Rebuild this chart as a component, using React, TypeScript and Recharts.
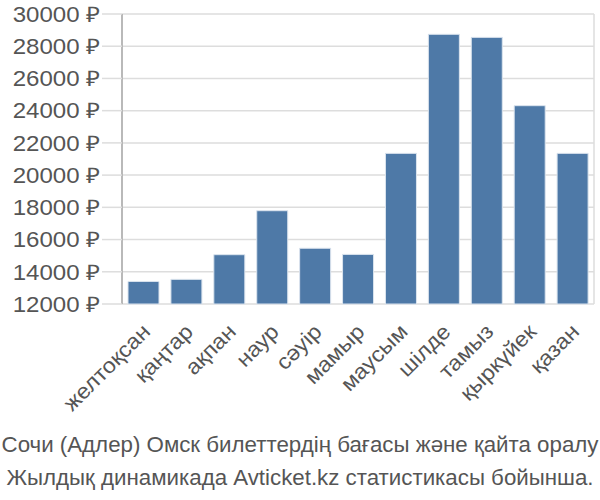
import { BarChart, Bar, XAxis, YAxis, CartesianGrid } from 'recharts';

const months = ['желтоқсан', 'қаңтар', 'ақпан', 'наур', 'сәуір', 'мамыр', 'маусым', 'шілде', 'тамыз', 'қыркүйек', 'қазан'];
const prices = [13400, 13530, 15060, 17790, 15460, 15080, 21350, 28740, 28550, 24310, 21350];
const yTicks = [12000, 14000, 16000, 18000, 20000, 22000, 24000, 26000, 28000, 30000];
const gridTicks = [0, 1, 2, 3, 4, 5, 6, 7, 8, 9, 10, 11];
const titleLines = [
  'Сочи (Адлер) Омск билеттердің бағасы және қайта оралу',
  'Жылдық динамикада Avticket.kz статистикасы бойынша.',
];

const font = '"Liberation Sans", Arial, sans-serif';

// y tick text is wider than the plain font, stretch it horizontally
function PriceTick(props: any) {
  const { x, y, payload } = props;
  return (
    <g transform={`translate(${x},${y})`}>
      <text
        transform="scale(1.12,1)"
        textAnchor="end"
        dy="0.36em"
        fill="#555555"
        fontSize={21.5}
        fontFamily={font}
      >
        {`${payload.value} ₽`}
      </text>
    </g>
  );
}

function MonthTick(props: any) {
  const { x, y, payload } = props;
  return (
    <g transform={`translate(${x + 8},${y + 29})`}>
      <text
        transform="rotate(-45) scale(1.08,1)"
        textAnchor="end"
        fill="#555555"
        fontSize={21.5}
        fontFamily={font}
      >
        {payload.value}
      </text>
    </g>
  );
}

export default function App() {
  // one row per month for the chart
  const chartData = months.map((m, i) => ({ month: m, price: prices[i], pos: i + 0.5 }));

  return (
    <div style={{ position: 'absolute', left: 0, top: 0, width: 600, height: 500, background: '#fff' }}>
      <BarChart
        width={600}
        height={428}
        data={chartData}
        margin={{ top: 14, right: 6, left: 0, bottom: 0 }}
        barCategoryGap="14%"
      >
        <CartesianGrid stroke="#dddddd" strokeWidth={1.5} xAxisId="grid" />
        <XAxis
          xAxisId="grid"
          type="number"
          dataKey="pos"
          domain={[0, 11]}
          ticks={gridTicks}
          tick={false}
          tickSize={19}
          tickLine={{ stroke: '#dddddd', strokeWidth: 1.5 }}
          axisLine={{ stroke: '#aaaaaa', strokeWidth: 1.5 }}
          height={0}
        />
        <XAxis
          dataKey="month"
          interval={0}
          axisLine={false}
          tickLine={false}
          tickSize={0}
          tickMargin={0}
          height={124}
          tick={<MonthTick />}
        />
        <YAxis
          width={122}
          domain={[12000, 30000]}
          ticks={yTicks}
          interval={0}
          tickSize={20}
          tickMargin={2}
          tickLine={{ stroke: '#dddddd', strokeWidth: 1.5 }}
          axisLine={{ stroke: '#aaaaaa', strokeWidth: 1.5 }}
          tick={<PriceTick />}
        />
        <Bar dataKey="price" fill="#4e79a7" stroke="#dbe4ee" strokeWidth={1} isAnimationActive={false} />
      </BarChart>
      <div
        style={{
          position: 'absolute',
          left: 0,
          top: 428,
          width: 600,
          textAlign: 'center',
          color: '#555555',
          fontFamily: font,
          fontSize: 22.3,
          lineHeight: '33px',
          whiteSpace: 'nowrap',
        }}
      >
        {titleLines.map((line) => (
          <div key={line}>{line}</div>
        ))}
      </div>
    </div>
  );
}
